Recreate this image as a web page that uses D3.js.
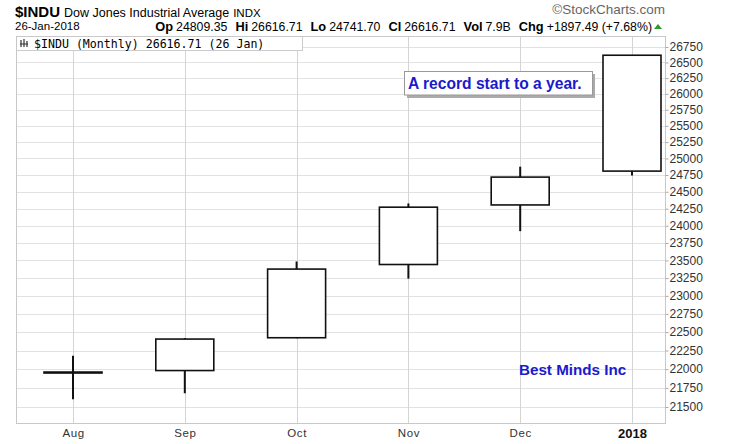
<!DOCTYPE html>
<html>
<head>
<meta charset="utf-8">
<script src="https://cdn.jsdelivr.net/npm/d3@7/dist/d3.min.js"></script>
<style>
  html, body { margin: 0; padding: 0; background: #fff; }
  svg { display: block; font-family: 'Liberation Sans', Arial, sans-serif; }
</style>
</head>
<body>
<div id="app"></div>
<script>
// monthly OHLC, $INDU
const months = ['Aug', 'Sep', 'Oct', 'Nov', 'Dec', '2018']
const opens = [21961, 21981, 22423, 23442, 24305, 24809.35]
const highs = [22179, 22419, 23485, 24327, 24876, 26616.71]
const lows = [21600, 21680, 22416, 23242, 23921, 24741.70]
const closes = [21948, 22405, 23377, 24272, 24719, 26616.71]

const priceTicks = [21500, 21750, 22000, 22250, 22500, 22750, 23000, 23250, 23500, 23750,
  24000, 24250, 24500, 24750, 25000, 25250, 25500, 25750, 26000, 26250, 26500, 26750]

const quote = [
  ['Op', '24809.35'], ['Hi', '26616.71'], ['Lo', '24741.70'],
  ['Cl', '26616.71'], ['Vol', '7.9B'], ['Chg', '+1897.49 (+7.68%)']
]

const W = 740, H = 444
const plot = { left: 16.5, right: 665.5, top: 36.5, bottom: 423.5 }

const svg = d3.select('#app').append('svg').attr('width', W).attr('height', H)

const x = d3.scalePoint().domain(months).range([73, 632])
const y = d3.scaleLog().domain([21500, 26750]).range([407, 47])

// header
const head = svg.append('text').attr('x', 15).attr('y', 16.5)
head.append('tspan').attr('font-weight', 'bold').attr('font-size', 15).text('$INDU')
head.append('tspan').attr('font-size', 12.5).attr('dx', 4).text('Dow Jones Industrial Average')
head.append('tspan').attr('font-size', 11.5).attr('dx', 4).text('INDX')

svg.append('text').attr('x', 665).attr('y', 14).attr('text-anchor', 'end')
  .attr('font-size', 13.5).attr('fill', '#666').text('\u00A9StockCharts.com')

svg.append('text').attr('x', 15).attr('y', 30).attr('font-size', 11.5).text('26-Jan-2018')

const q = svg.append('text').attr('x', 652).attr('y', 30.5).attr('text-anchor', 'end')
quote.forEach(([k, v], i) => {
  q.append('tspan').attr('font-weight', 'bold').attr('font-size', 12.8)
    .attr('dx', i ? 8 : 0).text(k)
  q.append('tspan').attr('font-size', 12.3).attr('dx', 3).text(v)
})
svg.append('path').attr('d', 'M654,29 L662,29 L658,24 Z').attr('fill', '#2a9d2a')

// grid
const g = svg.append('g')
g.selectAll('line.h').data(priceTicks).join('line')
  .attr('x1', plot.left).attr('x2', plot.right)
  .attr('y1', d => Math.round(y(d)) + 0.5).attr('y2', d => Math.round(y(d)) + 0.5)
  .attr('stroke', '#e2e2e2')
g.selectAll('line.v').data(months).join('line')
  .attr('x1', d => Math.round(x(d)) + 0.5).attr('x2', d => Math.round(x(d)) + 0.5)
  .attr('y1', plot.top).attr('y2', plot.bottom)
  .attr('stroke', '#d4d4d4')

// legend box on top of grid
svg.append('rect').attr('x', plot.left).attr('y', plot.top).attr('width', 286).attr('height', 14)
  .attr('fill', '#fff').attr('stroke', '#ccc')
const icon = svg.append('g').attr('stroke', '#333').attr('stroke-width', 1.2).attr('fill', 'none')
icon.append('path').attr('d', 'M21,40 v7 M24,39 v8 M27,41 v6 M20,44 h8')
svg.append('text').attr('x', 34).attr('y', 47.5).attr('font-family', 'DejaVu Sans Mono, monospace')
  .attr('font-size', 11.6).text('$INDU (Monthly) 26616.71 (26 Jan)')

svg.append('rect').attr('x', plot.left).attr('y', plot.top)
  .attr('width', plot.right - plot.left).attr('height', plot.bottom - plot.top)
  .attr('fill', 'none').attr('stroke', '#c8c8c8')

// candles
const bw = 58
const c = svg.append('g').selectAll('g').data(months).join('g')
c.append('line')
  .attr('x1', d => x(d)).attr('x2', d => x(d))
  .attr('y1', (d, i) => y(highs[i])).attr('y2', (d, i) => y(lows[i]))
  .attr('stroke', '#111').attr('stroke-width', 2)
c.append('rect')
  .attr('x', d => x(d) - bw / 2).attr('width', bw)
  .attr('y', (d, i) => y(Math.max(opens[i], closes[i])))
  .attr('height', (d, i) => Math.max(0.5, y(Math.min(opens[i], closes[i])) - y(Math.max(opens[i], closes[i]))))
  .attr('fill', '#fff').attr('stroke', '#111').attr('stroke-width', 1.6)

// axes
const yAxis = svg.append('g').attr('transform', `translate(${plot.right},0)`)
  .call(d3.axisRight(y).tickValues(priceTicks).tickFormat(d3.format('d')).tickSize(3).tickPadding(1))
yAxis.select('.domain').remove()
yAxis.selectAll('line').attr('stroke', '#aaa')
yAxis.selectAll('text').attr('font-size', 12).attr('fill', '#333')
  .attr('font-family', 'Liberation Sans, Arial, sans-serif')

const xAxis = svg.append('g').attr('transform', `translate(0,${plot.bottom})`)
  .call(d3.axisBottom(x).tickSize(0).tickPadding(5))
xAxis.select('.domain').remove()
xAxis.selectAll('text')
  .attr('font-family', 'Liberation Sans, Arial, sans-serif')
  .attr('letter-spacing', d => d === '2018' ? null : 0.6)
  .attr('font-weight', d => d === '2018' ? 'bold' : null)
  .attr('font-size', d => d === '2018' ? 13 : 11.5)
  .attr('fill', d => d === '2018' ? '#111' : '#333')

// annotations
svg.append('rect').attr('x', 407).attr('y', 74).attr('width', 188).attr('height', 24).attr('fill', '#aaa')
svg.append('rect').attr('x', 404.5).attr('y', 71.5).attr('width', 188).attr('height', 23.5)
  .attr('fill', '#fff').attr('stroke', '#999')
svg.append('text').attr('x', 408).attr('y', 88.5).attr('font-size', 15.6).attr('font-weight', 'bold')
  .attr('fill', '#1a1acc').text('A record start to a year.')
svg.append('text').attr('x', 519).attr('y', 375).attr('font-size', 15.2).attr('font-weight', 'bold')
  .attr('fill', '#1a1acc').text('Best Minds Inc')
</script>
</body>
</html>
